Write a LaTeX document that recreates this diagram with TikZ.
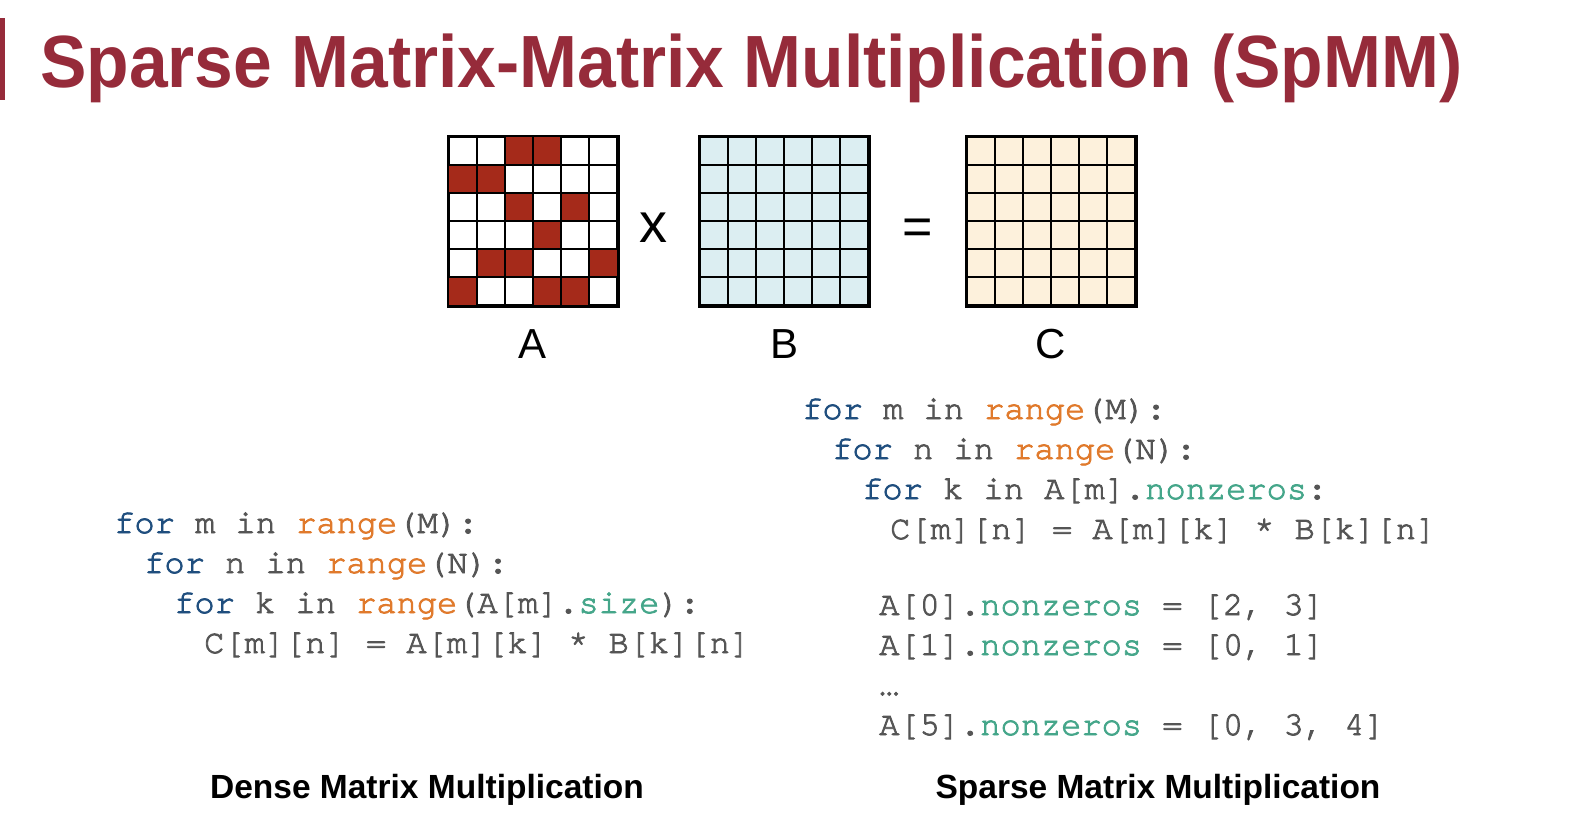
\documentclass[tikz,border=0pt]{standalone}
\usepackage{fontspec}
\setmainfont{Liberation Sans}
\newfontfamily\codefont[Extension=.otf, UprightFont=*-regular, BoldFont=*-bold, FakeBold=2.5]{texgyrecursor}
\usetikzlibrary{positioning}

\definecolor{titlered}{HTML}{962B3A}
\definecolor{cellred}{HTML}{A52A1A}
\definecolor{bfill}{HTML}{DCEEF2}
\definecolor{cfill}{HTML}{FDF1DC}
\definecolor{kwblue}{HTML}{1F4E7E}
\definecolor{fnorange}{HTML}{E07A2C}
\definecolor{attrteal}{HTML}{45A68A}
\definecolor{codegray}{HTML}{555555}

\newcommand{\kw}[1]{\textcolor{kwblue}{#1}}
\newcommand{\fn}[1]{\textcolor{fnorange}{#1}}
\newcommand{\attr}[1]{\textcolor{attrteal}{#1}}

\tikzset{
	matbox/.style={draw, line width=2.5pt, minimum size=168pt, inner sep=0pt},
	gridline/.style={line width=2.5pt},
	matlabel/.style={anchor=base, inner sep=0pt, font=\fontsize{42}{48}\selectfont},
	op/.style={inner sep=0pt, font=\fontsize{56}{60}\selectfont},
	code/.style={anchor=base west, inner sep=0pt, text=codegray, font=\codefont\fontsize{33.7}{40}\selectfont},
	caption/.style={anchor=base, inner sep=0pt, font=\bfseries\fontsize{33.5}{40}\selectfont}
}

\begin{document}
\begin{tikzpicture}[x=1pt, y=-1pt]
	\useasboundingbox (0,0) rectangle (1572,836);
	% title
	\fill[titlered] (0,18) rectangle (5,100);
	\node (title) [anchor=base west, inner sep=0pt, text=titlered, font=\bfseries\fontsize{74}{80}\selectfont] at (40,87) {\scalebox{0.94}[1]{Sparse Matrix-Matrix Multiplication (SpMM)}};
	% matrices
	\foreach \mx/\mfill/\mname in {449/white/A, 700/bfill/B, 967/cfill/C} {
		\node (mat\mname) [matbox, fill=\mfill] at (\mx+84,221) {};
		\node (lab\mname) [matlabel] at (\mx+84,358) {\mname};
	}
	\foreach \r/\c in {0/2,0/3,1/0,1/1,2/2,2/4,3/3,4/1,4/2,4/5,5/0,5/3,5/4}
		\fill[cellred] (449+28*\c,137+28*\r) rectangle ++(28,28);
	\foreach \mx/\mname in {449/A, 700/B, 967/C} {
		\foreach \i in {1,...,5} {
			\draw[gridline] (\mx+28*\i,137) -- (\mx+28*\i,305);
			\draw[gridline] (\mx,137+28*\i) -- (\mx+168,137+28*\i);
		}
		\draw[gridline] (mat\mname.north west) rectangle (mat\mname.south east);
	}
	\node (times) [op] at (653,228) {x};
	\node (equals) [op, font=\fontsize{52}{60}\selectfont] at (918,232) {=};
	% dense code
	\node (d1) [code] at (114,533) {\kw{for} m in \fn{range}(M):};
	\node (d2) [code] at (144,573) {\kw{for} n in \fn{range}(N):};
	\node (d3) [code] at (174,613) {\kw{for} k in \fn{range}(A[m].\attr{size}):};
	\node (d4) [code] at (204,653) {C[m][n] = A[m][k] * B[k][n]};
	% sparse code
	\node (s1) [code] at (802,419) {\kw{for} m in \fn{range}(M):};
	\node (s2) [code] at (832,459) {\kw{for} n in \fn{range}(N):};
	\node (s3) [code] at (862,499) {\kw{for} k in A[m].\attr{nonzeros}:};
	\node (s4) [code] at (890,539) {C[m][n] = A[m][k] * B[k][n]};
	\node (z0) [code] at (879,615) {A[0].\attr{nonzeros} = [2, 3]};
	\node (z1) [code] at (879,655) {A[1].\attr{nonzeros} = [0, 1]};
	\node (zdots) [code] at (879,695) {…};
	\node (z5) [code] at (879,735) {A[5].\attr{nonzeros} = [0, 3, 4]};
	% captions
	\node (densecap) [caption] at (427,798) {Dense Matrix Multiplication};
	\node (sparsecap) [caption] at (1158,798) {Sparse Matrix Multiplication};
\end{tikzpicture}
\end{document}
